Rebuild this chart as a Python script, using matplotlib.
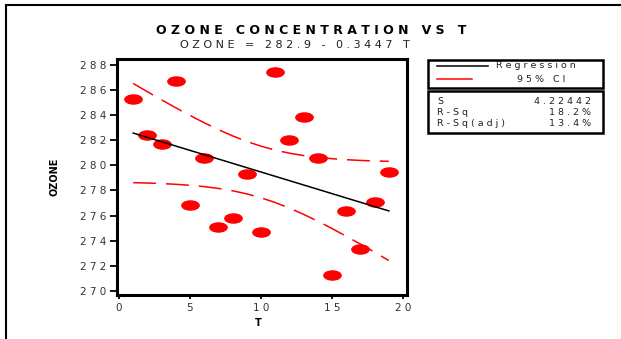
import numpy as np
import matplotlib
matplotlib.use("Agg")
import matplotlib.pyplot as plt
from matplotlib.path import Path
from matplotlib.patches import Rectangle
from matplotlib.lines import Line2D

# data
temp = np.arange(1, 20)
ozone = [285.3, 282.4, 281.7, 286.7, 276.8, 280.6, 275.1, 275.8, 279.3, 274.7,
         287.4, 282.0, 283.8, 280.6, 271.3, 276.4, 273.3, 277.1, 279.5]
yticks = [270, 272, 274, 276, 278, 280, 282, 284, 286, 288]
xticks = [0, 5, 10, 15, 20]
stats = [("S", "4.22442"), ("R-Sq", "18.2%"), ("R-Sq(adj)", "13.4%")]

W, H = 621, 339

def sp(s):
    # the old plot puts a space between every character
    return " ".join(s)

def fx(x):
    return x / W

def fy(y):
    return 1 - y / H

# regression + 95% CI for the mean
ozone = np.array(ozone)
b, a = np.polyfit(temp, ozone, 1)
fit = a + b * temp
n = len(temp)
s = np.sqrt(np.sum((ozone - fit) ** 2) / (n - 2))
sxx = np.sum((temp - temp.mean()) ** 2)
tcrit = 2.10982
half = tcrit * s * np.sqrt(1 / n + (temp - temp.mean()) ** 2 / sxx)

fig = plt.figure(figsize=(W / 100, H / 100), dpi=100)
ax = fig.add_axes([fx(117), fy(295), (407 - 117) / W, (295 - 59) / H])

ell = Path.unit_circle()
ell = Path(ell.vertices * [1, 0.56], ell.codes)
ax.plot(temp, ozone, linestyle="none", marker=ell, markersize=13.5,
        color="#ff0000", markeredgewidth=0)
ax.plot(temp, fit, color="black", lw=1.1)
ax.plot(temp, fit + half, color="#ff0000", lw=1.1, linestyle=(0, (15, 6.5)))
ax.plot(temp, fit - half, color="#ff0000", lw=1.1, linestyle=(0, (15, 6.5)))

ax.set_xlim(-0.14, 20.28)
ax.set_ylim(269.68, 288.45)
ax.set_xticks(xticks)
ax.set_xticklabels([sp(str(v)) for v in xticks])
ax.set_yticks(yticks)
ax.set_yticklabels([sp(str(v)) for v in yticks])
for side in ax.spines.values():
    side.set_linewidth(2.2)
ax.tick_params(axis="y", length=5, width=1.3, pad=3, labelsize=7.5, labelcolor="#333333")
ax.tick_params(axis="x", length=3, width=1.3, pad=3, labelsize=7.5, labelcolor="#333333")

fig.text(fx(55), fy(177), "OZONE", rotation=90, fontsize=7, fontweight="bold",
         ha="center", va="center")
fig.text(fx(258), fy(323), "T", fontsize=7, fontweight="bold", ha="center", va="center")

fig.text(fx(311), fy(31), sp("OZONE") + "   " + sp("CONCENTRATION") + "   " + sp("VS") + "   T",
         fontsize=9, fontweight="bold", ha="center", va="center")
fig.text(fx(295), fy(45), sp("OZONE") + "   =   " + sp("282.9") + "   -   " + sp("0.3447") + "   T",
         fontsize=8, ha="center", va="center", color="#222222")

# outer frame (top and left edge only show)
fig.add_artist(Line2D([fx(6), 1], [fy(5), fy(5)], color="black", lw=1.5))
fig.add_artist(Line2D([fx(6), fx(6)], [fy(5), 0], color="black", lw=1.5))

# legend box
fig.add_artist(Rectangle((fx(428), fy(88)), (603 - 428) / W, (88 - 60) / H,
                         fill=False, lw=1.8, edgecolor="black"))
fig.add_artist(Line2D([fx(437), fx(488)], [fy(66), fy(66)], color="black", lw=1.1))
fig.add_artist(Line2D([fx(437), fx(472)], [fy(79), fy(79)], color="#ff0000", lw=1.1))
fig.text(fx(536), fy(66), sp("Regression"), fontsize=6.8, ha="center", va="center", color="#222222")
fig.text(fx(541), fy(79), sp("95%") + "   " + sp("CI"), fontsize=6.8, ha="center", va="center", color="#222222")

# stats box
fig.add_artist(Rectangle((fx(428), fy(133)), (603 - 428) / W, (133 - 91) / H,
                         fill=False, lw=1.8, edgecolor="black"))
for i, (k, v) in enumerate(stats):
    yy = fy(102 + i * 10.5)
    fig.text(fx(437), yy, sp(k), fontsize=6.8, ha="left", va="center", color="#222222")
    fig.text(fx(591), yy, sp(v), fontsize=6.8, ha="right", va="center", color="#222222")

fig.savefig("out.png", dpi=100)
